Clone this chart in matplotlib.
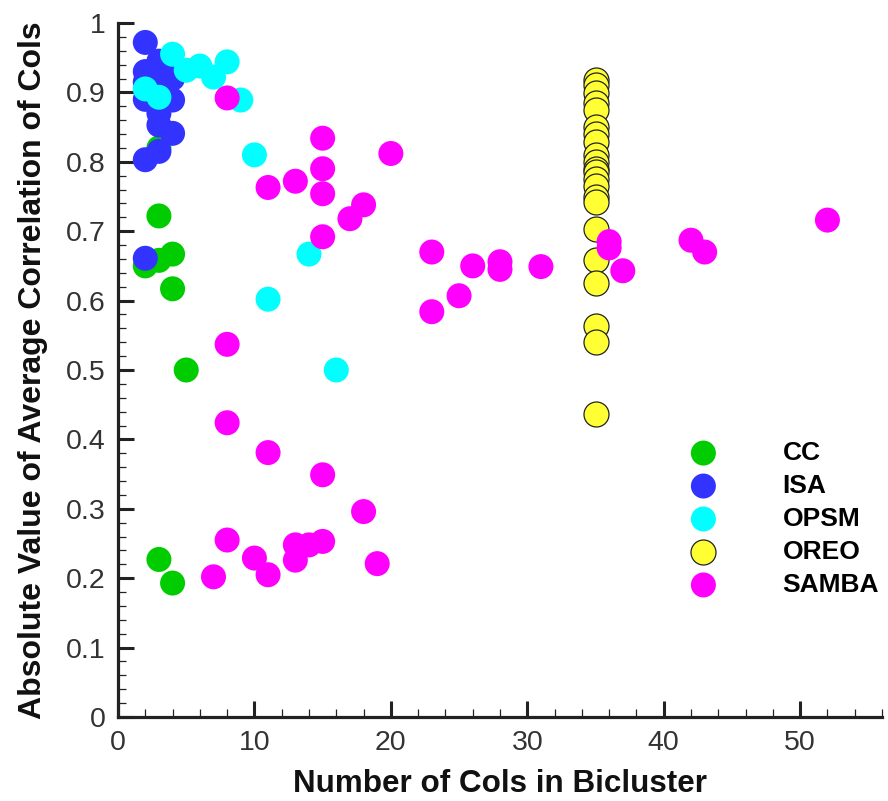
import matplotlib
matplotlib.use("Agg")
import matplotlib.pyplot as plt
from matplotlib.ticker import MultipleLocator

plt.rcParams['font.family'] = ['Liberation Sans', 'DejaVu Sans']

# Number of columns and |average correlation| for each bicluster, per algorithm
cc_cols = [2, 3, 3, 3, 4, 4, 5, 3, 4]
cc_corr = [0.650, 0.658, 0.722, 0.820, 0.667, 0.617, 0.500, 0.227, 0.193]

isa_cols = [2, 3, 2, 2, 3, 4, 2, 3, 4, 3, 3, 4, 3, 2, 2]
isa_corr = [0.972, 0.945, 0.930, 0.915, 0.920, 0.920, 0.890, 0.895, 0.889,
            0.870, 0.853, 0.841, 0.815, 0.803, 0.661]

opsm_cols = [2, 3, 4, 5, 6, 7, 8, 9, 10, 11, 14, 16]
opsm_corr = [0.905, 0.893, 0.955, 0.932, 0.938, 0.922, 0.944, 0.889, 0.810,
             0.602, 0.667, 0.500]

oreo_cols = [35] * 22
oreo_corr = [0.918, 0.910, 0.899, 0.885, 0.875, 0.850, 0.840, 0.828, 0.810,
             0.800, 0.790, 0.785, 0.775, 0.765, 0.750, 0.742, 0.703, 0.659,
             0.626, 0.564, 0.541, 0.437]

samba_cols = [8, 15, 20, 11, 13, 15, 15, 18, 17, 15, 8, 23, 26, 28, 28, 31,
              25, 23, 36, 36, 37, 42, 43, 52, 8, 11, 15, 18, 8, 7, 10, 11,
              13, 13, 14, 15, 19]
samba_corr = [0.892, 0.834, 0.812, 0.763, 0.772, 0.790, 0.754, 0.738, 0.718,
              0.692, 0.537, 0.670, 0.650, 0.656, 0.645, 0.649, 0.607, 0.584,
              0.685, 0.676, 0.643, 0.687, 0.670, 0.716, 0.424, 0.381, 0.349,
              0.296, 0.255, 0.202, 0.229, 0.205, 0.248, 0.226, 0.248, 0.253,
              0.221]

series = [
    ("CC", cc_cols, cc_corr, "#00CC00", "none"),
    ("ISA", isa_cols, isa_corr, "#3333FF", "none"),
    ("OPSM", opsm_cols, opsm_corr, "#00FFFF", "none"),
    ("OREO", oreo_cols, oreo_corr, "#FFFF33", "#222222"),
    ("SAMBA", samba_cols, samba_corr, "#FF00FF", "none"),
]

fig = plt.figure(figsize=(8.88, 8.01), dpi=100)
ax = fig.add_axes([118 / 888, 84 / 801, 764 / 888, 694 / 801])

ms = 18.0
for name, xs, ys, color, edge in series:
    ax.scatter(xs, ys, s=ms ** 2, c=color, edgecolors=edge,
               linewidths=0.9 if edge != "none" else 0, label=name, zorder=3)

ax.set_xlim(0, 56)
ax.set_ylim(0, 1)
ax.xaxis.set_major_locator(MultipleLocator(10))
ax.xaxis.set_minor_locator(MultipleLocator(2))
ax.yaxis.set_major_locator(MultipleLocator(0.1))
ax.yaxis.set_minor_locator(MultipleLocator(0.02))
ax.yaxis.set_major_formatter(plt.FuncFormatter(
    lambda v, p: "0" if abs(v) < 1e-9 else ("1" if abs(v - 1) < 1e-9 else f"{v:.1f}")))

for side in ("top", "right"):
    ax.spines[side].set_visible(False)
for side in ("left", "bottom"):
    ax.spines[side].set_linewidth(2.3)
    ax.spines[side].set_color("#222222")

ax.tick_params(which="major", direction="in", length=11.5, width=2.2,
               labelsize=20.5, pad=9, color="#222222", labelcolor="#333333")
ax.tick_params(which="minor", direction="in", length=6, width=0.9,
               color="#222222")

ax.set_xlabel("Number of Cols in Bicluster", fontsize=22.6, fontweight="bold",
              labelpad=10, color="#111111")
ax.set_ylabel("Absolute Value of Average Correlation of Cols", fontsize=23,
              fontweight="bold", labelpad=13, color="#111111")

leg = ax.legend(loc="upper left", bbox_to_anchor=((677 - 118) / 764, (717 - 441) / 694),
                frameon=False, fontsize=19, markerscale=1.0,
                handlelength=2.0, handletextpad=2.0, labelspacing=0.34,
                borderpad=0, borderaxespad=0)
for t in leg.get_texts():
    t.set_fontweight("bold")

fig.savefig("out.png", dpi=100, facecolor="white")
